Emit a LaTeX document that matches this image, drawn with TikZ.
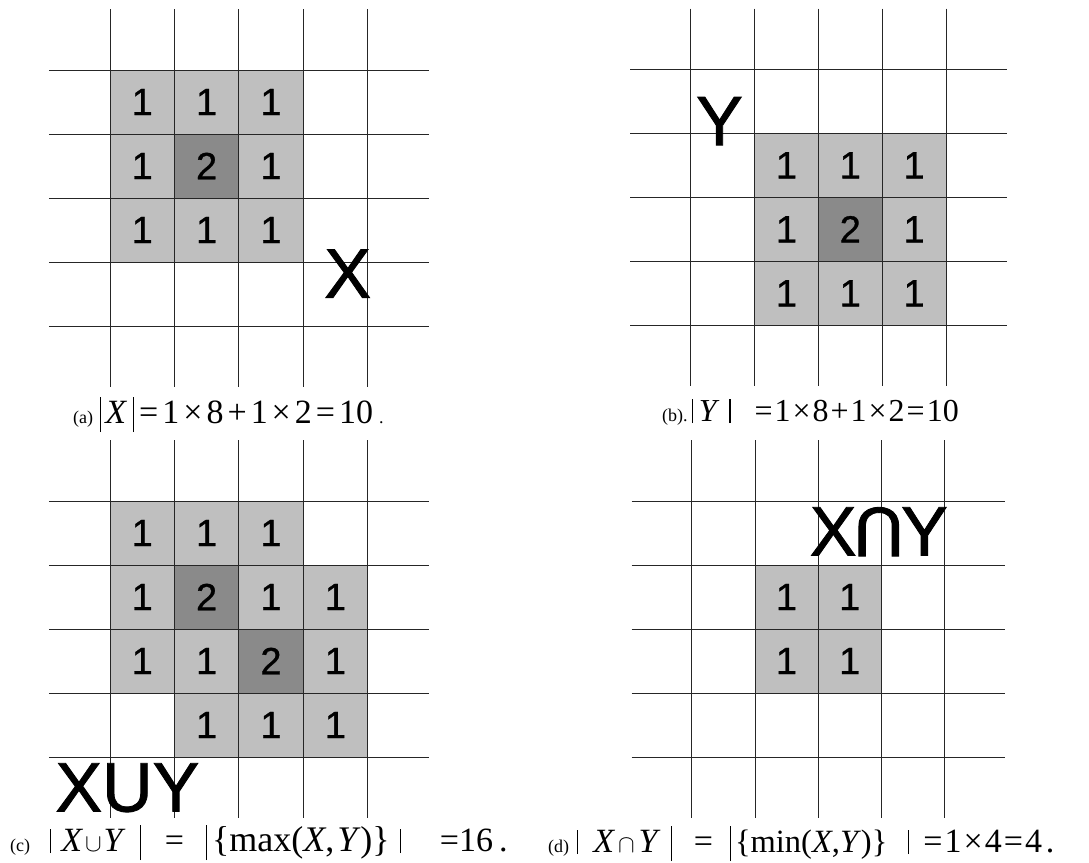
\documentclass[tikz,border=0pt]{standalone}
\usepackage{graphicx}
\usepackage{fontspec}
\setmainfont{Liberation Serif}
\setsansfont{Liberation Sans}
\newfontfamily\digitfont[FakeBold=0.8]{Liberation Sans}
\newfontfamily\namefont[FakeBold=1.2]{Liberation Sans}

\colorlet{cell1}{black!25}
\colorlet{cell2}{black!46}

\newcommand{\capsmall}[1]{{\fontsize{18}{18}\selectfont #1}}
\newcommand{\tallbar}{\rule[-9pt]{1.1pt}{35pt}}
\newcommand{\shortbar}{\rule[-2pt]{1.1pt}{24pt}}
\newcommand{\capU}{\rotatebox[origin=c]{180}{U}}

\tikzset{
  gridline/.style={black!85, line width=0.8pt},
  cellnum/.style={font=\digitfont\fontsize{38}{38}\selectfont, inner sep=0pt},
  setname/.style={font=\namefont\fontsize{70}{70}\selectfont, inner sep=0pt},
  caption/.style={font=\rmfamily\fontsize{34}{34}\selectfont, inner sep=0pt, anchor=base west},
}

\begin{document}
\begin{tikzpicture}[x=1pt, y=-1pt]
  \useasboundingbox (0,0) rectangle (1089,862);

  % (a) the set X
  \begin{scope}[shift={(45.6pt,-6pt)}, x=64.4pt, y=-64pt]
    \foreach \c/\r/\v in {1/1/1,2/1/1,3/1/1,1/2/1,2/2/2,3/2/1,1/3/1,2/3/1,3/3/1}
      \fill[fill=cell\v] (\c,\r) rectangle ++(1,1);
    \foreach \k in {1,...,5} {
      \draw[gridline] (\k,0.05) -- (\k,5.95);
      \draw[gridline] (0.05,\k) -- (5.95,\k);
    }
    \foreach \c/\r/\v in {1/1/1,2/1/1,3/1/1,1/2/1,2/2/2,3/2/1,1/3/1,2/3/1,3/3/1}
      \node[cellnum] (a-\c-\r) at (\c+0.5,\r+0.5) {\v};
    \node[setname] (nameX) at (4.69,4.18) {X};
  \end{scope}

  % (b) the set Y
  \begin{scope}[shift={(627pt,-5.3pt)}, x=63.8pt, y=-64pt]
    \foreach \c/\r/\v in {2/2/1,3/2/1,4/2/1,2/3/1,3/3/2,4/3/1,2/4/1,3/4/1,4/4/1}
      \fill[fill=cell\v] (\c,\r) rectangle ++(1,1);
    \foreach \k in {1,...,5} {
      \draw[gridline] (\k,0.05) -- (\k,5.95);
      \draw[gridline] (0.05,\k) -- (5.95,\k);
    }
    \foreach \c/\r/\v in {2/2/1,3/2/1,4/2/1,2/3/1,3/3/2,4/3/1,2/4/1,3/4/1,4/4/1}
      \node[cellnum] (b-\c-\r) at (\c+0.5,\r+0.5) {\v};
    \node[setname] (nameY) at (1.45,1.81) {Y};
  \end{scope}

  % (c) union, max of the two
  \begin{scope}[shift={(45.6pt,-437pt)}, x=64.4pt, y=-64pt]
    \foreach \c/\r/\v in {1/1/1,2/1/1,3/1/1,1/2/1,2/2/2,3/2/1,4/2/1,
                          1/3/1,2/3/1,3/3/2,4/3/1,2/4/1,3/4/1,4/4/1}
      \fill[fill=cell\v] (\c,\r) rectangle ++(1,1);
    \foreach \k in {1,...,5} {
      \draw[gridline] (\k,0.05) -- (\k,5.95);
      \draw[gridline] (0.05,\k) -- (5.95,\k);
    }
    \foreach \c/\r/\v in {1/1/1,2/1/1,3/1/1,1/2/1,2/2/2,3/2/1,4/2/1,
                          1/3/1,2/3/1,3/3/2,4/3/1,2/4/1,3/4/1,4/4/1}
      \node[cellnum] (c-\c-\r) at (\c+0.5,\r+0.5) {\v};
    \node[setname] (nameXuY) at (1.27,5.48) {XUY};
  \end{scope}

  % (d) intersection, min of the two
  \begin{scope}[shift={(628.5pt,-437pt)}, x=63.2pt, y=-64pt]
    \foreach \c/\r/\v in {2/2/1,3/2/1,2/3/1,3/3/1}
      \fill[fill=cell\v] (\c,\r) rectangle ++(1,1);
    \foreach \k in {1,...,5} {
      \draw[gridline] (\k,0.05) -- (\k,5.95);
      \draw[gridline] (0.05,\k) -- (5.95,\k);
    }
    \foreach \c/\r/\v in {2/2/1,3/2/1,2/3/1,3/3/1}
      \node[cellnum] (d-\c-\r) at (\c+0.5,\r+0.5) {\v};
    \node[setname] (nameXnY) at (3.96,1.48) {X\hspace{-3pt}\capU\hspace{-3pt}Y};
  \end{scope}

  % captions
  \node[caption] (capA) at (73,423) {\capsmall{(a)}\hspace{7pt}\tallbar\hspace{4pt}\textit{X}\hspace{6pt}\tallbar\hspace{5pt}%
    =\hspace{4pt}1\hspace{4pt}×\hspace{4pt}8\hspace{4pt}+\hspace{4pt}1\hspace{4pt}×\hspace{4pt}2\hspace{4pt}=\hspace{4pt}10\hspace{6pt}\capsmall{.}};
  \node[caption, font=\rmfamily\fontsize{32}{32}\selectfont] (capB) at (662,421) {\capsmall{(b).}\hspace{4pt}\shortbar\hspace{6pt}\textit{Y}\hspace{10pt}\shortbar\hspace{24pt}%
    =\hspace{2pt}1\hspace{2pt}×\hspace{2pt}8\hspace{2pt}+\hspace{2pt}1\hspace{2pt}×\hspace{2pt}2\hspace{2pt}=\hspace{2pt}10};
  \node[caption] (capC) at (10,851) {\capsmall{(c)}\hspace{20pt}\shortbar\hspace{10pt}\textit{X}\hspace{2pt}$\cup$\hspace{2pt}\textit{Y}\hspace{14pt}\tallbar\hspace{24pt}%
    =\hspace{22pt}\tallbar\hspace{5pt}{\fontsize{36}{36}\selectfont\{max(\textit{X},\hspace{3pt}\textit{Y})\}}\hspace{10pt}\shortbar\hspace{39pt}=16\hspace{6pt}.};
  \node[caption] (capD) at (548,852) {\capsmall{(d)}\hspace{8pt}\shortbar\hspace{15pt}\textit{X}\hspace{3pt}$\cap$\hspace{4pt}\textit{Y}\hspace{10pt}\tallbar\hspace{22pt}%
    =\hspace{17pt}\tallbar\hspace{4pt}{\fontsize{32.5}{32.5}\selectfont\{min(\textit{X},\textit{Y})\}}\hspace{21pt}\shortbar\hspace{14pt}%
    =\hspace{2pt}1\hspace{2pt}×\hspace{2pt}4\hspace{2pt}=\hspace{2pt}4\hspace{4pt}.};
\end{tikzpicture}
\end{document}
